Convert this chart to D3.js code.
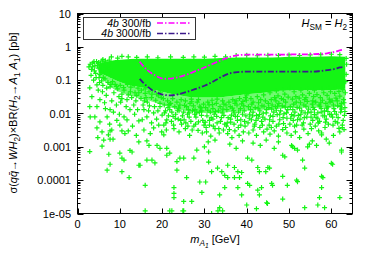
<!DOCTYPE html>
<html>
<head>
<meta charset="utf-8">
<script src="https://cdn.jsdelivr.net/npm/d3@7"></script>
<style>
  body { margin: 0; background: #fff; }
  text { font-family: "Liberation Sans", Arial, sans-serif; fill: #000; }
</style>
</head>
<body>
<svg id="chart" width="374" height="262"></svg>
<script>
// axis ticks
var xTicks = [0, 10, 20, 30, 40, 50, 60];
var yTicks = [1e-5, 1e-4, 1e-3, 1e-2, 0.1, 1, 10];
var yTickLabels = ["1e-05", "0.0001", "0.001", "0.01", "0.1", "1", "10"];

// saturated part of the scan (envelope)
var coreM  = [5,    7,    9,    11,   14,    17,    20,    24,    28,   32,   36,    40,    44,    48,    52,   56,   60,   63.3];
var coreHi = [0.3,  0.36, 0.4,  0.42, 0.44,  0.44,  0.44,  0.44,  0.44, 0.45, 0.47,  0.48,  0.48,  0.49,  0.5,  0.5,  0.52, 0.5];
var coreLo = [0.17, 0.13, 0.1,  0.08, 0.065, 0.055, 0.045, 0.035, 0.03, 0.03, 0.033, 0.038, 0.042, 0.048, 0.05, 0.05, 0.05, 0.055];
// speckled zone just under it
var haloLo = [0.14, 0.08, 0.05, 0.04, 0.03,  0.024, 0.018, 0.013, 0.011,0.01, 0.011, 0.012, 0.013, 0.014, 0.015,0.015,0.015,0.018];

// individual scan points [mA1, sigma*BR]
var scanPts = [
  // top fringe
  [6.0,0.42],[8.0,0.5],[9.5,0.46],[10.5,0.52],[12.0,0.5],[14.0,0.48],[16.5,0.5],[19.0,0.47],[22.0,0.5],[25.0,0.48],
  [27.5,0.5],[30.0,0.49],[32.5,0.52],[35.0,0.5],[37.5,0.55],[40.0,0.56],[42.5,0.54],[45.0,0.56],[47.5,0.55],[50.0,0.57],
  [52.5,0.55],[55.0,0.57],[57.5,0.58],[60.0,0.6],[62.0,0.58],[63.5,0.45],[63.6,0.3],[63.5,0.15],[63.4,0.09],
  // m 2-8 band
  [2.7,0.25],[3.0,0.3],[3.3,0.21],[3.6,0.33],[4.1,0.27],[4.5,0.36],[4.9,0.23],[5.4,0.31],[5.8,0.38],[3.2,0.14],
  [4.3,0.16],[5.1,0.12],[5.6,0.18],[3.5,0.25],[4.0,0.19],[4.7,0.28],[5.3,0.15],[5.9,0.25],[6.3,0.33],[6.8,0.2],
  [7.3,0.28],[7.8,0.14],[6.1,0.12],[7.0,0.16],[5.0,0.34],[3.9,0.36],[6.6,0.38],[7.5,0.4],[6.9,0.3],[7.6,0.22],
  [3.8,0.1],[5.2,0.085],[6.5,0.11],[7.2,0.085],[6.0,0.07],[4.4,0.12],[5.7,0.095],[7.9,0.075],[6.9,0.058],[4.9,0.05],
  // m 2-6 lower
  [2.9,0.059],[4.6,0.072],[3.4,0.032],[5.3,0.026],[2.9,0.016],[4.6,0.016],[5.9,0.045],[3.0,0.0079],[4.1,0.0079],[5.3,0.0056],
  [4.6,0.0037],[5.8,0.0028],[2.9,0.00072],[4.8,0.0019],[5.8,0.00105],
  // m 6-10
  [6.2,0.0016],[7.7,0.0017],[8.4,0.0017],[7.4,0.0006],[7.7,0.0003],[7.0,0.0002],[7.0,0.0079],[7.7,0.013],[7.3,0.0023],[8.1,0.0032],
  [7.7,0.063],[8.6,0.042],[9.8,0.032],[8.9,0.075],[9.5,0.055],[6.8,0.035],[8.1,0.024],[9.2,0.018],[8.5,0.011],[9.9,0.0095],
  [6.4,0.021],[7.6,0.0048],[9.3,0.0062],[7.7,0.003],[6.6,0.014],
  // m 8-20 under the core
  [8.3,0.09],[9.2,0.065],[10.1,0.07],[10.9,0.06],[11.8,0.075],[12.6,0.062],[13.4,0.07],[14.3,0.058],[15.1,0.05],[16.0,0.055],
  [16.9,0.045],[17.8,0.05],[18.7,0.038],[19.6,0.044],[10.5,0.028],[12.0,0.036],[13.6,0.042],[15.8,0.024],[17.6,0.038],[19.1,0.034],
  // m 10-15
  [10.5,0.003],[10.0,0.00065],[10.5,0.00046],[11.0,0.0004],[10.5,0.00018],[12.2,0.00012],[12.4,0.00078],[12.9,0.0007],[14.5,0.00028],[14.8,0.00028],
  [14.5,0.0014],[11.7,0.026],[12.4,0.013],[13.3,0.018],[11.0,0.0079],[11.7,0.0064],[10.0,0.0045],[12.5,0.045],[14.0,0.035],[11.0,0.05],
  [10.5,0.038],[14.5,0.042],[13.5,0.0095],[14.5,0.006],[12.0,0.003],[13.0,0.0042],[11.5,0.016],[13.8,0.024],[12.8,0.03],[10.2,0.022],
  [14.2,0.013],[11.2,0.0025],[13.9,0.0022],
  // m 15-20
  [16.0,1.2e-5],[16.0,7e-5],[16.4,0.0004],[17.6,0.0004],[18.3,0.00033],[16.4,0.0015],[16.9,0.0011],[18.8,0.0011],[19.5,0.0009],[19.9,0.0028],
  [15.7,0.013],[16.4,0.0079],[18.0,0.0104],[19.5,0.016],[15.7,0.0032],[18.0,0.0037],[15.0,0.028],[16.5,0.022],[17.5,0.03],[18.5,0.025],
  [19.5,0.02],[16.0,0.04],[17.0,0.017],[19.0,0.012],[17.5,0.0052],[15.3,0.0065],[16.8,0.012],[18.7,0.0068],[19.2,0.0045],[17.2,0.0025],
  [15.5,0.018],[18.2,0.016],[19.8,0.03],[16.2,0.03],
  // m 20-25
  [20.4,0.0023],[21.1,0.00056],[21.8,0.00065],[21.1,0.0009],[22.8,6e-5],[22.8,4e-5],[22.8,3e-5],[22.3,1.2e-5],[21.8,1.2e-5],[23.5,0.0002],
  [23.5,0.00036],[24.2,0.00046],[24.9,1.2e-5],[20.4,0.0045],[21.1,0.0064],[21.8,0.013],[22.7,0.0045],[20.0,0.009],[20.5,0.018],[21.3,0.024],
  [22.0,0.02],[22.5,0.028],[23.0,0.016],[23.5,0.022],[24.0,0.012],[24.5,0.026],[20.8,0.012],[21.5,0.0085],[22.2,0.0058],[23.2,0.0095],
  [23.8,0.0068],[24.6,0.0048],[24.2,0.018],[20.3,0.028],[22.8,0.0035],[21.0,0.0032],[24.0,0.0028],
  [20.6,0.0105],[21.4,0.015],[22.3,0.011],[23.1,0.0072],[23.9,0.0145],[24.8,0.0085],[20.9,0.0052],[22.6,0.0082],[24.4,0.0062],[21.7,0.0185],
  [23.6,0.0125],
  // m 25-30
  [25.1,2.3e-5],[25.1,1.2e-5],[27.0,2.3e-5],[25.8,0.00012],[25.1,0.00046],[28.2,0.0008],[27.5,0.00046],[28.9,8.8e-5],[29.4,4.3e-5],[25.5,0.0035],
  [26.5,0.0022],[27.5,0.0042],[28.5,0.0031],[29.5,0.0026],[25.2,0.0065],[26.0,0.0095],[26.8,0.0058],[27.2,0.012],[28.0,0.0078],[28.8,0.011],
  [29.6,0.0062],[25.8,0.016],[26.6,0.02],[27.4,0.017],[28.3,0.022],[29.1,0.015],[29.8,0.019],[25.5,0.024],[26.9,0.027],[28.6,0.026],
  [27.9,0.0048],[26.2,0.013],[29.3,0.0088],[25.1,0.011],[27.7,0.0095],
  [25.6,0.0052],[26.4,0.0078],[27.1,0.0032],[27.8,0.013],[28.6,0.0056],[29.4,0.012],[26.1,0.0042],[28.2,0.0105],[29.9,0.0045],[25.3,0.0175],
  [27.0,0.0225],[28.9,0.0165],[26.4,0.0105],
  // m 30-35
  [30.3,8.8e-5],[30.0,0.001],[31.0,0.0007],[31.0,0.00035],[31.7,0.00018],[31.7,1e-5],[33.2,1.2e-5],[34.3,1.2e-5],[33.6,1.5e-5],[33.6,3.6e-5],
  [34.8,6e-5],[33.1,0.00023],[34.1,0.00018],[34.8,0.00014],[30.5,0.0028],[31.5,0.0021],[32.5,0.0035],[33.5,0.0026],[34.5,0.0032],[30.2,0.0055],
  [31.2,0.0045],[32.0,0.0068],[33.0,0.0052],[34.0,0.0075],[34.8,0.0048],[30.6,0.0085],[31.4,0.011],[32.3,0.0095],[33.3,0.012],[34.2,0.0105],
  [30.3,0.015],[31.1,0.018],[32.0,0.014],[32.8,0.02],[33.7,0.016],[34.6,0.019],[30.8,0.022],[31.8,0.025],[33.0,0.027],[34.3,0.024],
  [32.5,0.0016],[30.9,0.0014],
  [30.4,0.0038],[31.2,0.0062],[32.1,0.0042],[32.9,0.0082],[33.8,0.0058],[34.6,0.0088],[30.8,0.0125],[32.6,0.0115],[34.4,0.0135],[31.6,0.0075],
  [33.4,0.0035],[31.9,0.0185],
  // m 35-40
  [35.5,0.00012],[37.1,0.00012],[38.3,0.00012],[37.9,6e-5],[38.8,3.6e-5],[35.5,0.00028],[37.1,0.00024],[37.9,0.00018],[38.8,0.00017],[36.0,0.0012],
  [37.5,0.0009],[39.0,0.0015],[35.5,0.0025],[36.5,0.0019],[37.2,0.003],[38.2,0.0022],[39.2,0.0028],[35.2,0.0042],[36.2,0.0055],[37.0,0.0048],
  [37.8,0.0062],[38.6,0.0045],[39.5,0.0058],[35.6,0.0075],[36.4,0.009],[37.3,0.0082],[38.1,0.011],[39.0,0.0095],[39.8,0.0085],[35.3,0.013],
  [36.1,0.016],[36.9,0.012],[37.7,0.018],[38.5,0.014],[39.3,0.017],[35.8,0.022],[36.7,0.026],[37.5,0.024],[38.3,0.028],[39.1,0.023],
  [39.7,0.03],
  [35.4,0.0052],[36.2,0.0068],[37.0,0.0105],[37.8,0.0082],[38.6,0.0065],[39.4,0.012],[36.6,0.0145],[38.8,0.0195],[35.9,0.0033],[38.0,0.0038],
  [39.6,0.0042],[35.1,0.018],[37.2,0.02],[39.9,0.025],
  // m 40-45
  [40.2,8e-5],[40.7,7e-5],[40.0,1.8e-5],[42.3,1.4e-5],[42.6,5e-5],[43.0,3.6e-5],[43.5,6e-5],[44.7,2.1e-5],[44.9,2e-5],[42.6,0.00024],
  [40.2,0.00046],[41.2,0.0004],[43.0,0.00018],[44.5,0.00018],[41.5,0.0013],[43.2,0.0011],[44.6,0.0016],[40.5,0.0026],[41.5,0.0032],[42.3,0.0022],
  [43.1,0.0038],[44.0,0.0028],[44.8,0.0034],[40.3,0.0052],[41.1,0.0065],[41.9,0.0048],[42.7,0.0072],[43.5,0.0058],[44.3,0.0068],[40.7,0.0095],
  [41.5,0.011],[42.3,0.0088],[43.1,0.012],[43.9,0.0102],[44.7,0.013],[40.4,0.016],[41.2,0.019],[42.0,0.015],[42.8,0.021],[43.6,0.017],
  [44.4,0.024],[41.0,0.028],[42.5,0.032],[44.0,0.036],[40.0,0.036],
  [40.6,0.0072],[41.4,0.0085],[42.2,0.0062],[43.0,0.0092],[43.8,0.0078],[44.6,0.0105],[40.9,0.013],[42.7,0.0145],[44.1,0.0165],[41.8,0.0042],
  [43.7,0.0045],[41.5,0.022],[43.3,0.026],
  // m 45-50
  [45.9,8e-5],[46.1,7e-5],[48.5,2.7e-5],[48.5,0.00013],[49.6,7e-5],[45.0,0.00024],[45.4,0.00023],[48.5,0.00056],[49.0,0.0005],[46.5,0.0009],
  [47.5,0.0014],[45.5,0.0024],[46.5,0.003],[47.5,0.0021],[48.5,0.0033],[49.5,0.0026],[45.3,0.0045],[46.2,0.0058],[47.0,0.0042],[47.8,0.0065],
  [48.7,0.005],[49.5,0.0072],[45.6,0.0085],[46.4,0.011],[47.2,0.0092],[48.0,0.012],[48.8,0.0098],[49.7,0.013],[45.2,0.015],[46.0,0.018],
  [46.8,0.016],[47.6,0.02],[48.4,0.017],[49.2,0.022],[45.8,0.026],[46.6,0.03],[47.4,0.034],[48.2,0.028],[49.0,0.038],[49.8,0.031],
  [45.5,0.042],[47.0,0.048],[48.6,0.052],
  [45.4,0.0065],[46.2,0.0082],[47.0,0.0125],[47.8,0.0095],[48.6,0.0075],[49.4,0.0105],[45.9,0.0135],[47.3,0.0165],[49.1,0.0155],[45.8,0.0038],
  [47.6,0.0048],[49.2,0.0038],[45.1,0.02],[46.9,0.024],[48.7,0.026],
  // m 50-55
  [51.8,0.0001],[52.0,9e-5],[53.7,1.5e-5],[51.3,0.0009],[52.0,0.0008],[50.6,0.0011],[50.8,0.001],[53.2,0.0004],[53.7,0.00023],[54.4,0.001],
  [54.8,0.0012],[50.5,0.0022],[51.5,0.0028],[52.5,0.0019],[53.5,0.0034],[54.5,0.0025],[50.2,0.0048],[51.0,0.0062],[51.8,0.0045],[52.6,0.0068],
  [53.4,0.0052],[54.2,0.0078],[50.6,0.0092],[51.4,0.011],[52.2,0.0088],[53.0,0.012],[53.8,0.0105],[54.6,0.0135],[50.3,0.016],[51.1,0.019],
  [51.9,0.015],[52.7,0.021],[53.5,0.018],[54.3,0.023],[50.8,0.027],[51.6,0.032],[52.4,0.029],[53.2,0.036],[54.0,0.03],[54.8,0.04],
  [51.2,0.045],[52.8,0.05],[54.4,0.055],[50.2,0.058],
  [50.4,0.0072],[51.2,0.0085],[52.0,0.0065],[52.8,0.0095],[53.6,0.0075],[54.4,0.0105],[50.9,0.013],[52.5,0.0145],[54.0,0.0165],[51.3,0.0042],
  [53.1,0.0045],[51.7,0.022],[53.7,0.026],
  // m 55-60
  [57.7,0.0026],[57.7,0.0023],[57.7,0.00013],[58.0,0.00012],[57.7,6e-5],[57.2,3e-5],[58.4,1.5e-5],[56.8,1.8e-5],[55.5,0.0015],[56.5,0.0011],
  [58.8,0.0017],[59.5,0.0013],[55.3,0.0035],[56.2,0.0042],[57.0,0.003],[58.5,0.0038],[59.3,0.0048],[55.6,0.0062],[56.4,0.0075],[57.2,0.0058],
  [58.0,0.0085],[58.8,0.0068],[59.6,0.0092],[55.2,0.011],[56.0,0.013],[56.8,0.0105],[57.6,0.014],[58.4,0.012],[59.2,0.016],[55.5,0.019],
  [56.3,0.022],[57.1,0.018],[57.9,0.025],[58.7,0.02],[59.5,0.027],[55.8,0.032],[56.6,0.037],[57.4,0.03],[58.2,0.042],[59.0,0.035],
  [59.8,0.045],[56.0,0.05],[57.8,0.055],[59.4,0.06],
  [55.2,0.0078],[56.0,0.0092],[56.8,0.0072],[57.6,0.011],[58.4,0.0085],[59.2,0.0115],[55.7,0.015],[57.3,0.0165],[58.9,0.0145],[55.0,0.0048],
  [56.9,0.0052],[58.6,0.0055],[55.6,0.024],[57.5,0.021],[59.7,0.022],
  // m 60-64
  [60.0,0.00032],[60.3,0.0003],[62.0,0.0028],[62.4,0.0008],[62.4,0.0007],[62.6,0.0038],[63.0,0.0033],[62.0,3e-5],[60.5,0.0022],[61.5,0.0052],
  [62.8,0.0062],[60.3,0.0078],[61.2,0.0095],[62.2,0.011],[63.1,0.0088],[60.6,0.014],[61.5,0.017],[62.4,0.02],[63.2,0.015],[60.2,0.024],
  [61.1,0.029],[62.0,0.033],[62.9,0.026],[60.8,0.04],[61.8,0.046],[62.7,0.052],[63.3,0.042],[61.0,0.062],[62.5,0.065],[60.4,0.0045],
  [61.8,0.0036],
  [60.0,0.0095],[60.8,0.0115],[61.6,0.0075],[62.4,0.0135],[63.2,0.0115],[60.5,0.018],[62.1,0.016],[60.9,0.0058],[62.6,0.0045],[61.4,0.024],
  [63.0,0.021]
];

// 4b reach curves
var reachM    = [14.7, 15.5, 16.5, 17.5, 18.5, 19.5, 20.5, 22,    24,    26,    28,    30,    32,   34,    36,   38,    40,   45,   50,   55,   57,    59,   61,   62,   63];
var reach300  = [0.36, 0.27, 0.2,  0.16, 0.135,0.118,0.11, 0.112, 0.125, 0.15,  0.19,  0.24,  0.31, 0.4,   0.5,  0.56,  0.58, 0.58, 0.59, 0.6,  0.61,  0.64, 0.72, 0.78, 0.83];
var reach3000 = [0.11, 0.085,0.065,0.052,0.044,0.039,0.036,0.035, 0.038, 0.045, 0.055, 0.068, 0.09, 0.125, 0.16, 0.175, 0.18, 0.18, 0.18, 0.18, 0.185, 0.2,  0.22, 0.24, 0.25];

var seriesNames  = ["300/fb", "3000/fb"];
var seriesColors = ["#ff00ff", "#3c1a8c"];

var svg = d3.select("#chart");
var plotL = 77.5, plotR = 352.5, plotT = 13.5, plotB = 213.5;

var x = d3.scaleLinear().domain([0, 65]).range([plotL, plotR]);
var y = d3.scaleLog().domain([1e-5, 10]).range([plotB, plotT]);

var plot = svg.append("g");
plot.append("clipPath").attr("id", "clip")
  .append("rect").attr("x", plotL).attr("y", plotT).attr("width", plotR - plotL).attr("height", plotB - plotT);
var inner = plot.append("g").attr("clip-path", "url(#clip)");

var green = "#14f514";
var coreData = coreM.map(function(m, i) { return {m: m, hi: coreHi[i], lo: coreLo[i], halo: haloLo[i]}; });

// speckled zone
inner.append("path").datum(coreData)
  .attr("d", d3.area().curve(d3.curveMonotoneX)
    .x(function(d) { return x(d.m); })
    .y0(function(d) { return y(d.halo); })
    .y1(function(d) { return y(d.lo); }))
  .attr("fill", green).attr("fill-opacity", 0.6);

// saturated core
inner.append("path").datum(coreData)
  .attr("d", d3.area().curve(d3.curveMonotoneX)
    .x(function(d) { return x(d.m); })
    .y0(function(d) { return y(d.lo); })
    .y1(function(d) { return y(d.hi); }))
  .attr("fill", green);

// crosses
inner.append("path")
  .attr("d", scanPts.map(function(p) {
    var px = x(p[0]), py = y(p[1]);
    return "M" + (px - 2.5) + "," + py + "h5M" + px + "," + (py - 2.5) + "v5";
  }).join(""))
  .attr("stroke", green).attr("stroke-width", 1.2).attr("fill", "none");

// reach curves
var line = d3.line().curve(d3.curveMonotoneX)
  .x(function(d) { return x(d[0]); })
  .y(function(d) { return y(d[1]); });
[reach300, reach3000].forEach(function(vals, k) {
  inner.append("path")
    .datum(reachM.map(function(m, i) { return [m, vals[i]]; }))
    .attr("d", line)
    .attr("fill", "none")
    .attr("stroke", seriesColors[k])
    .attr("stroke-width", 1.8)
    .attr("stroke-dasharray", "6,2,1.5,2");
});

// frame
plot.append("rect").attr("x", plotL).attr("y", plotT).attr("width", plotR - plotL).attr("height", plotB - plotT)
  .attr("fill", "none").attr("stroke", "#000").attr("stroke-width", 1);

// x ticks (bottom and mirrored top)
xTicks.forEach(function(t) {
  var px = Math.round(x(t)) + 0.5;
  plot.append("line").attr("x1", px).attr("x2", px).attr("y1", plotB).attr("y2", plotB - 5).attr("stroke", "#000");
  plot.append("line").attr("x1", px).attr("x2", px).attr("y1", plotT).attr("y2", plotT + 5).attr("stroke", "#000");
  plot.append("text").attr("x", x(t)).attr("y", 228).attr("text-anchor", "middle").attr("font-size", 11).text(t);
});

// y ticks, major + log minors, both sides
yTicks.forEach(function(t, i) {
  var py = Math.round(y(t)) + 0.5;
  plot.append("line").attr("x1", plotL).attr("x2", plotL + 6).attr("y1", py).attr("y2", py).attr("stroke", "#000");
  plot.append("line").attr("x1", plotR).attr("x2", plotR - 6).attr("y1", py).attr("y2", py).attr("stroke", "#000");
  plot.append("text").attr("x", 71).attr("y", y(t) + 4).attr("text-anchor", "end").attr("font-size", 11).text(yTickLabels[i]);
  if (t < 10) {
    for (var k = 2; k < 10; k++) {
      var my = Math.round(y(t * k)) + 0.5;
      plot.append("line").attr("x1", plotL).attr("x2", plotL + 3).attr("y1", my).attr("y2", my).attr("stroke", "#000");
      plot.append("line").attr("x1", plotR).attr("x2", plotR - 3).attr("y1", my).attr("y2", my).attr("stroke", "#000");
    }
  }
});

// rich text helper: parts of {t, i (italic), s (subscript level 1 or 2)}
function rich(textSel, parts, size) {
  var shift = 0;
  parts.forEach(function(p) {
    var lvl = p.s || 0;
    var want = lvl === 2 ? 5 : (lvl === 1 ? 3 : 0);
    var ts = textSel.append("tspan").text(p.t);
    if (want !== shift) { ts.attr("dy", want - shift); shift = want; }
    if (p.i) ts.attr("font-style", "italic");
    if (lvl === 1) ts.attr("font-size", size * 0.75);
    if (lvl === 2) ts.attr("font-size", size * 0.6);
  });
}

// axis titles
var xl = svg.append("text").attr("x", 215).attr("y", 243).attr("text-anchor", "middle").attr("font-size", 11);
rich(xl, [{t: "m", i: 1}, {t: "A", i: 1, s: 1}, {t: "1", i: 1, s: 2}, {t: " [GeV]"}], 11);

var yl = svg.append("text").attr("transform", "translate(17,113) rotate(-90)").attr("text-anchor", "middle").attr("font-size", 11);
rich(yl, [{t: "\u03c3("}, {t: "q", i: 1}, {t: "q\u0304", i: 1}, {t: "\u2192"}, {t: "WH", i: 1}, {t: "2", s: 1},
  {t: ")\u00d7BR("}, {t: "H", i: 1}, {t: "2", s: 1}, {t: "\u2192"}, {t: "A", i: 1}, {t: "1", s: 1},
  {t: " "}, {t: "A", i: 1}, {t: "1", s: 1}, {t: ") [pb]"}], 11);

// H_SM = H_2
var hl = svg.append("text").attr("x", 347).attr("y", 27).attr("text-anchor", "end").attr("font-size", 11);
rich(hl, [{t: "H", i: 1}, {t: "SM", s: 1}, {t: " = "}, {t: "H", i: 1}, {t: "2", s: 1}], 11);

// legend
var leg = svg.append("g");
leg.append("rect").attr("x", 83.5).attr("y", 17.5).attr("width", 112).attr("height", 22)
  .attr("fill", "#fff").attr("stroke", "#333").attr("stroke-width", 1);
seriesNames.forEach(function(name, k) {
  var ty = 26.5 + k * 10.5;
  var lt = leg.append("text").attr("x", 151).attr("y", ty).attr("text-anchor", "end").attr("font-size", 10.5);
  rich(lt, [{t: "4b", i: 1}, {t: " " + name}], 10.5);
  leg.append("line").attr("x1", 157).attr("x2", 190).attr("y1", ty - 3.5).attr("y2", ty - 3.5)
    .attr("stroke", seriesColors[k]).attr("stroke-width", 1.6).attr("stroke-dasharray", "6,2,1.5,2");
});
</script>
</body>
</html>
